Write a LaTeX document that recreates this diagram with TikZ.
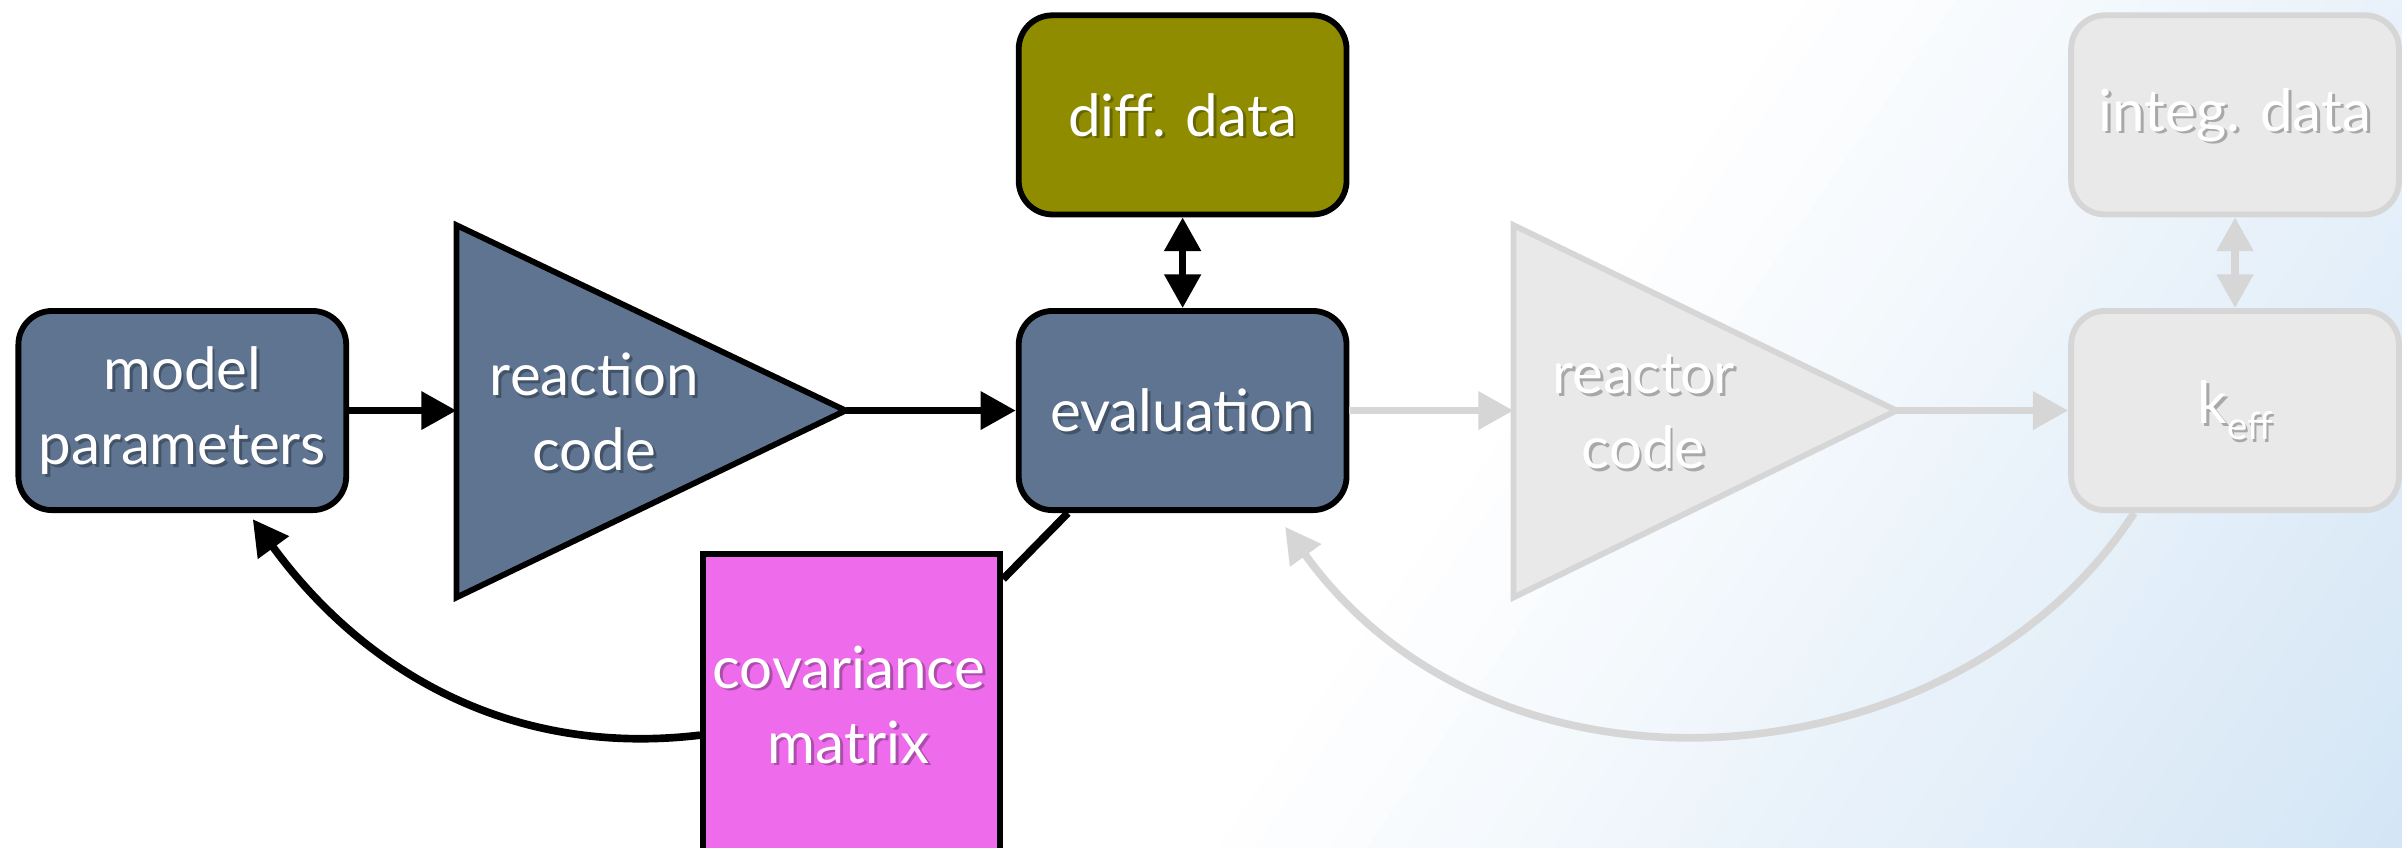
\documentclass[tikz,border=0pt]{standalone}
\usepackage{fontspec}
\setmainfont{Lato}
\usetikzlibrary{arrows.meta,calc}
\definecolor{slate}{HTML}{5E7490}
\definecolor{olivebox}{HTML}{908C00}
\definecolor{magentabox}{HTML}{EE6CEC}
\definecolor{palefill}{HTML}{E9E9E9}
\definecolor{paleline}{HTML}{D6D6D6}
\definecolor{bgblue}{HTML}{D3E5F5}
\newcommand\boxtext[3]{%
  \node[lbl, text=black, opacity=.28] (#1-shadow) at ([shift={(1.8pt,-1.8pt)}]#2) {#3};
  \node[lbl] (#1-text) at (#2) {#3};}
\begin{document}
\begin{tikzpicture}[x=1pt,y=-1pt,
  box/.style={draw=black, line width=3.8pt, rounded corners=22pt,
    minimum width=214pt, minimum height=130pt, inner sep=0pt},
  palebox/.style={box, draw=paleline, fill=palefill},
  lbl/.style={text=white, font=\fontsize{38}{49}\selectfont, align=center, inner sep=0pt},
  link/.style={line width=5pt, -{Triangle[length=23pt,width=24pt]}},
  dlink/.style={line width=4.8pt, {Triangle[length=22pt,width=23pt]}-{Triangle[length=22pt,width=23pt]}},
  palelink/.style={link, draw=paleline},
  paledlink/.style={dlink, draw=paleline},
  tri/.style={line width=3.8pt, line join=miter}
]
\useasboundingbox (0,0) rectangle (1568,553);
\clip (0,0) rectangle (1568,553);

% page background: white, turning pale blue towards the lower right corner
\fill[white] (0,0) rectangle (1568,553);
\foreach \d in {950,970,...,1700}{
  \pgfmathsetmacro\t{min(100,max(0,(\d-950)/6.5))}
  \fill[bgblue!\t!white]
    ({\d*0.82+2000*0.57},{\d*0.57-2000*0.82}) --
    ({\d*0.82-2000*0.57},{\d*0.57+2000*0.82}) --
    ({(\d+21)*0.82-2000*0.57},{(\d+21)*0.57+2000*0.82}) --
    ({(\d+21)*0.82+2000*0.57},{(\d+21)*0.57-2000*0.82}) -- cycle;
}

% ---- differential evaluation loop ----
\node[box, fill=slate] (mp) at (119,268) {};
\boxtext{mp}{mp.center}{model\\parameters}

\draw[tri, fill=slate] (298,147) -- (552,268) -- (298,390) -- cycle;
\coordinate (rc-in) at (298,268);
\coordinate (rc-tip) at (552,268);
\boxtext{rc}{388,269}{reaction\\code}

\node[box, fill=slate] (ev) at (772,268) {};
\boxtext{ev}{ev.center}{evaluation}

\node[box, fill=olivebox] (dd) at (772,75) {};
\boxtext{dd}{dd.center}{diff. data}

\node[draw=black, line width=3.8pt, fill=magentabox, minimum width=194pt,
  minimum height=230pt, inner sep=0pt, anchor=north west] (cov) at (457,360) {};
\boxtext{cov}{554,460}{covariance\\matrix}

\draw[link] (mp.east) -- (rc-in);
\draw[link] (rc-tip) -- (ev.west);
\draw[dlink] (dd.south) -- (ev.north);
\draw[line width=5pt] ([xshift=34pt]ev.south west) -- ([yshift=-18pt]cov.north east);
\draw[link] ([yshift=-3pt]cov.west) .. controls (330,495) and (235,435) .. ([xshift=46pt,yshift=-4pt]mp.south);

% ---- integral (reactor) loop, greyed out ----
\draw[tri, draw=paleline, fill=palefill] (988,147) -- (1238,268) -- (988,390) -- cycle;
\coordinate (rx-in) at (988,268);
\coordinate (rx-tip) at (1238,268);
\boxtext{rx}{1073,269}{reactor\\code}

\node[palebox] (ke) at (1459,268) {};
\boxtext{ke}{ke.center}{k\raisebox{-0.28em}{\fontsize{25}{25}\selectfont eff}}

\node[palebox] (id) at (1459,75) {};
\boxtext{id}{id.center}{integ. data}

\draw[palelink] (ev.east) -- (rx-in);
\draw[palelink] (rx-tip) -- (ke.west);
\draw[paledlink] (id.south) -- (ke.north);
\draw[palelink] ([xshift=43pt]ke.south west) .. controls (1280,510) and (980,540) .. ([xshift=-42pt,yshift=-9pt]ev.south east);
\end{tikzpicture}
\end{document}
